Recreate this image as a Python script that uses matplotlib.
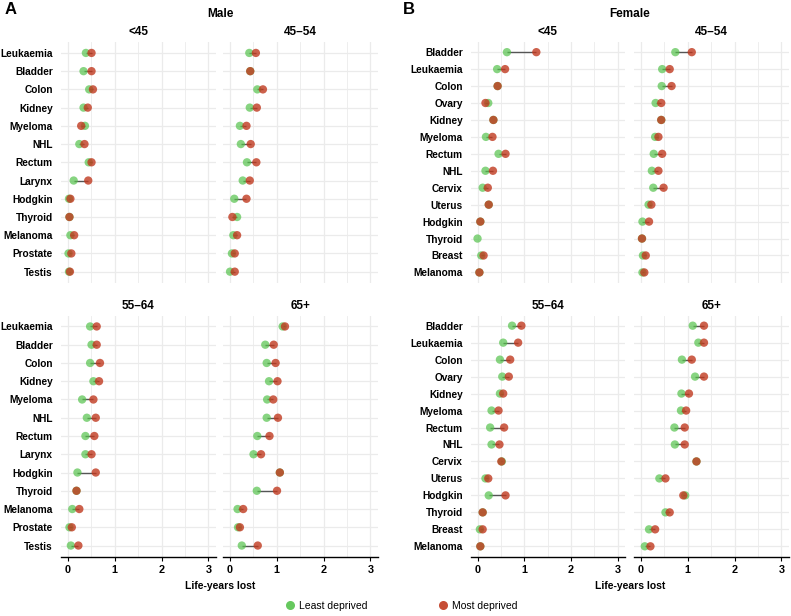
import numpy as np
import matplotlib.pyplot as plt
from matplotlib.lines import Line2D

plt.rcParams['font.family'] = ['Liberation Sans', 'DejaVu Sans']

W, H = 791, 616

age_groups = ['<45', '45–54', '55–64', '65+']

male_sites = ['Leukaemia', 'Bladder', 'Colon', 'Kidney', 'Myeloma', 'NHL', 'Rectum',
              'Larynx', 'Hodgkin', 'Thyroid', 'Melanoma', 'Prostate', 'Testis']
female_sites = ['Bladder', 'Leukaemia', 'Colon', 'Ovary', 'Kidney', 'Myeloma', 'Rectum',
                'NHL', 'Cervix', 'Uterus', 'Hodgkin', 'Thyroid', 'Breast', 'Melanoma']

# life-years lost, least deprived / most deprived, one list per age group
male_least = [
    [0.39, 0.34, 0.46, 0.34, 0.37, 0.25, 0.45, 0.13, 0.03, 0.04, 0.06, 0.02, 0.03],
    [0.42, 0.44, 0.59, 0.43, 0.22, 0.24, 0.37, 0.28, 0.10, 0.16, 0.08, 0.05, 0.01],
    [0.48, 0.51, 0.48, 0.55, 0.31, 0.41, 0.38, 0.38, 0.21, 0.19, 0.10, 0.04, 0.07],
    [1.13, 0.76, 0.79, 0.84, 0.80, 0.79, 0.59, 0.51, 1.07, 0.58, 0.17, 0.18, 0.26],
]
male_most = [
    [0.51, 0.51, 0.54, 0.43, 0.29, 0.36, 0.51, 0.44, 0.06, 0.04, 0.14, 0.08, 0.05],
    [0.56, 0.44, 0.71, 0.58, 0.36, 0.45, 0.57, 0.43, 0.36, 0.06, 0.16, 0.11, 0.11],
    [0.62, 0.62, 0.69, 0.67, 0.55, 0.60, 0.57, 0.51, 0.60, 0.19, 0.25, 0.09, 0.23],
    [1.18, 0.94, 0.98, 1.02, 0.93, 1.03, 0.85, 0.67, 1.07, 1.01, 0.29, 0.22, 0.60],
]
female_least = [
    [0.63, 0.42, 0.43, 0.23, 0.34, 0.18, 0.45, 0.17, 0.11, 0.24, 0.06, 0.00, 0.08, 0.04],
    [0.74, 0.46, 0.45, 0.32, 0.44, 0.31, 0.28, 0.24, 0.27, 0.17, 0.04, 0.03, 0.05, 0.04],
    [0.74, 0.55, 0.48, 0.53, 0.48, 0.30, 0.27, 0.30, 0.52, 0.17, 0.24, 0.11, 0.05, 0.06],
    [1.11, 1.23, 0.88, 1.16, 0.87, 0.86, 0.72, 0.73, 1.19, 0.40, 0.95, 0.53, 0.18, 0.09],
]
female_most = [
    [1.26, 0.59, 0.43, 0.17, 0.34, 0.32, 0.60, 0.33, 0.22, 0.24, 0.06, np.nan, 0.13, 0.04],
    [1.09, 0.62, 0.66, 0.44, 0.44, 0.38, 0.46, 0.38, 0.49, 0.23, 0.18, 0.03, 0.11, 0.08],
    [0.94, 0.87, 0.70, 0.67, 0.55, 0.45, 0.57, 0.47, 0.51, 0.23, 0.60, 0.11, 0.11, 0.06],
    [1.35, 1.35, 1.09, 1.35, 1.03, 0.97, 0.94, 0.94, 1.19, 0.53, 0.91, 0.62, 0.31, 0.21],
]

GREEN = '#55c24c'
RED = '#c0391f'
GRID = '#ebebeb'

fig = plt.figure(figsize=(W / 100, H / 100), dpi=100)


def add_ax(x0, y0, x1, y1):
    return fig.add_axes([x0 / W, 1 - y1 / H, (x1 - x0) / W, (y1 - y0) / H])


def draw_panel(ax, sites, least, most, title, show_y, bottom):
    n = len(sites)
    y = np.arange(n)
    least = np.array(least)
    most = np.array(most)
    ax.set_xlim(-0.14, 3.16)
    ax.set_ylim(n - 0.4, -0.6)
    ax.set_xticks([0, 1, 2, 3])
    ax.set_xticks([0.5, 1.5, 2.5], minor=True)
    ax.set_yticks(y)
    ax.grid(True, which='major', color=GRID, lw=0.9)
    ax.grid(True, which='minor', axis='x', color=GRID, lw=0.6)
    ax.set_axisbelow(True)
    for s in ax.spines.values():
        s.set_visible(False)
    ok = ~np.isnan(most)
    ax.hlines(y[ok], least[ok], most[ok], color='#555555', lw=1.0, zorder=2)
    ax.scatter(least, y, s=36, color=GREEN, alpha=0.7, edgecolors='none', zorder=3)
    ax.scatter(most, y, s=36, color=RED, alpha=0.8, edgecolors='none', zorder=4)
    if show_y:
        ax.set_yticklabels(sites, fontsize=7.3, fontweight='bold')
    else:
        ax.set_yticklabels([])
    ax.tick_params(axis='y', length=0, pad=6)
    if bottom:
        ax.spines['bottom'].set_visible(True)
        ax.spines['bottom'].set_linewidth(1.0)
        ax.tick_params(axis='x', which='major', length=3, width=0.8, labelsize=7.8, pad=3)
        for lab in ax.get_xticklabels():
            lab.set_fontweight('bold')
    else:
        ax.tick_params(axis='x', which='major', length=0, labelbottom=False)
    ax.tick_params(axis='x', which='minor', length=0)
    ax.set_title(title, fontsize=8.5, fontweight='bold', pad=5)


# pixel boxes for each panel
male_x = [(61, 216), (223, 378)]
female_x = [(471, 625), (634, 789)]
rows_y = [(42, 282.6), (315.5, 556.5)]

for i, age in enumerate(age_groups):
    r, c = divmod(i, 2)
    ax = add_ax(male_x[c][0], rows_y[r][0], male_x[c][1], rows_y[r][1])
    draw_panel(ax, male_sites, male_least[i], male_most[i], age, c == 0, r == 1)
    ax = add_ax(female_x[c][0], rows_y[r][0], female_x[c][1], rows_y[r][1])
    draw_panel(ax, female_sites, female_least[i], female_most[i], age, c == 0, r == 1)

fig.text(5 / W, 1 - 9 / H, 'A', fontsize=12, fontweight='bold', va='center', ha='left')
fig.text(403 / W, 1 - 9 / H, 'B', fontsize=12, fontweight='bold', va='center', ha='left')
fig.text(220 / W, 1 - 14 / H, 'Male', fontsize=8.5, fontweight='bold', ha='center', va='center')
fig.text(630 / W, 1 - 14 / H, 'Female', fontsize=8.5, fontweight='bold', ha='center', va='center')
fig.text(220 / W, 1 - 586 / H, 'Life-years lost', fontsize=7.5, fontweight='bold', ha='center', va='center')
fig.text(630 / W, 1 - 586 / H, 'Life-years lost', fontsize=7.5, fontweight='bold', ha='center', va='center')

handles = [Line2D([], [], marker='o', ls='none', color=GREEN, alpha=0.9, markersize=6.5, markeredgewidth=0),
           Line2D([], [], marker='o', ls='none', color=RED, alpha=0.9, markersize=6.5, markeredgewidth=0)]
fig.legend(handles, ['Least deprived', 'Most deprived'], loc='center', ncol=2,
           bbox_to_anchor=(400 / W, 1 - 606 / H), frameon=False, fontsize=7.5,
           handletextpad=0.1, columnspacing=6.5, handlelength=1.5)

fig.savefig('out.png', dpi=100)
